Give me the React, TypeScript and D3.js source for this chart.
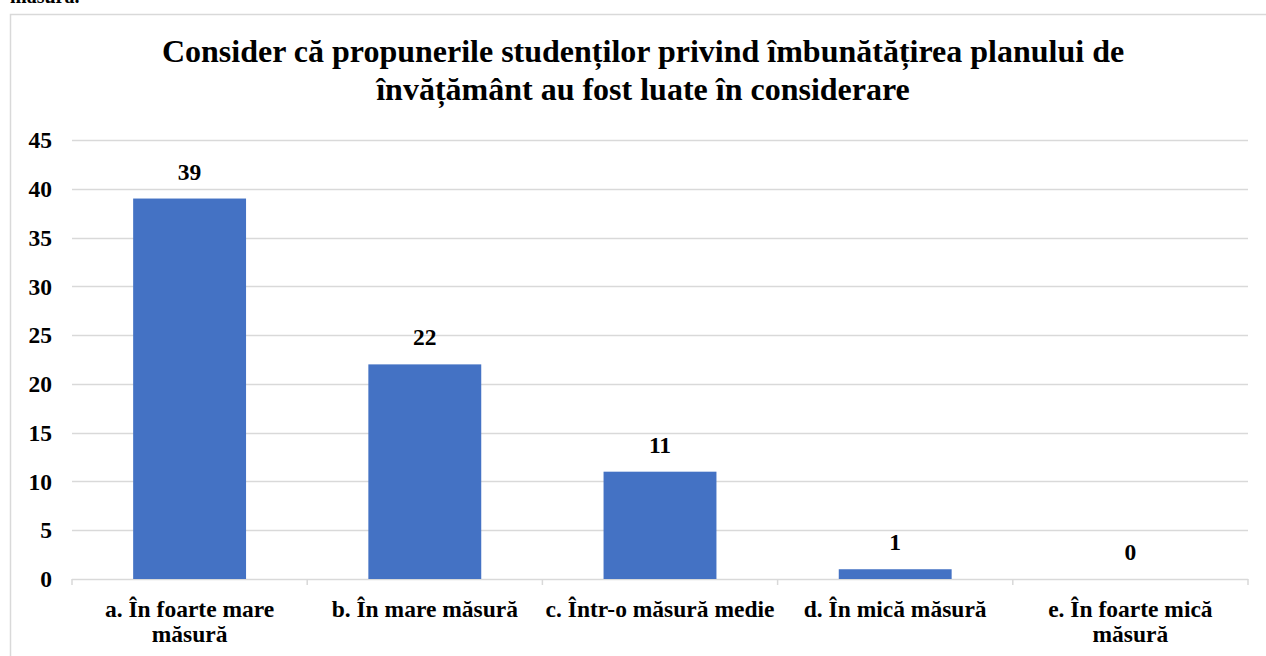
import React from "react";
import * as d3 from "d3";

const categories = [
  "a. În foarte mare măsură",
  "b. În mare măsură",
  "c. Într-o măsură medie",
  "d. În mică măsură",
  "e. În foarte mică măsură",
];
const values = [39, 22, 11, 1, 0];
const yTicks = [0, 5, 10, 15, 20, 25, 30, 35, 40, 45];
const titleLines = [
  "Consider că propunerile studenților privind îmbunătățirea planului de",
  "învățământ au fost luate în considerare",
];

const W = 1266;
const H = 656;
const FONT = "'Liberation Serif', 'Times New Roman', serif";

function wrap(text: string, maxW: number, font: string): string[] {
  const c = document.createElement("canvas").getContext("2d")!;
  c.font = font;
  const words = text.split(" ");
  const lines: string[] = [];
  let cur = "";
  for (const w of words) {
    const t = cur ? cur + " " + w : w;
    if (c.measureText(t).width > maxW && cur) {
      lines.push(cur);
      cur = w;
    } else cur = t;
  }
  if (cur) lines.push(cur);
  return lines;
}

export default function App() {
  const left = 72, right = 1248, top = 140, bottom = 579;
  const x = d3.scaleBand<string>().domain(categories).range([left, right]).paddingInner(0.52).paddingOuter(0.26);
  const xb = d3.scaleBand<string>().domain(categories).range([left, right]);
  const y = d3.scaleLinear().domain([0, 45]).range([bottom, top]);
  const fs = 23.5;
  const labelFont = `bold ${fs}px ${FONT}`;
  return (
    <svg width={W} height={H} style={{ position: "absolute", left: 0, top: 0, background: "#fff" }} fontFamily={FONT}>
      <text x={10} y={3} fontSize={20} fontWeight="bold" fill="#000">măsură.</text>
      <rect x={10.5} y={14.5} width={W + 10} height={H + 10} fill="#fff" stroke="#d9d9d9" strokeWidth={1.5} />
      {titleLines.map((t, i) => (
        <text key={i} x={643} y={62 + i * 38} textAnchor="middle" fontSize={32} fontWeight="bold" fill="#000">{t}</text>
      ))}
      {yTicks.map((t) => (
        <g key={t}>
          <line x1={left} x2={right} y1={Math.round(y(t)) + 0.5} y2={Math.round(y(t)) + 0.5} stroke="#d9d9d9" strokeWidth={1.5} />
          <text x={52} y={y(t)} dy="0.35em" textAnchor="end" fontSize={fs} fontWeight="bold">{t}</text>
        </g>
      ))}
      {categories.map((c, i) => (
        <line key={"tk" + i} x1={xb(c)!} x2={xb(c)!} y1={bottom} y2={bottom + 6} stroke="#d9d9d9" strokeWidth={1.5} />
      ))}
      <line x1={right} x2={right} y1={bottom} y2={bottom + 6} stroke="#d9d9d9" strokeWidth={1.5} />
      {categories.map((c, i) => (
        <rect key={"b" + i} x={x(c)!} width={x.bandwidth()} y={y(values[i])} height={bottom - y(values[i])} fill="#4472c4" />
      ))}
      {categories.map((c, i) => (
        <text key={"v" + i} x={xb(c)! + xb.bandwidth() / 2} y={y(values[i]) - 19} textAnchor="middle" fontSize={fs} fontWeight="bold">{values[i]}</text>
      ))}
      {categories.map((c, i) => {
        const lines = wrap(c, xb.bandwidth() - 2, labelFont);
        return (
          <text key={"c" + i} x={xb(c)! + xb.bandwidth() / 2} y={617} textAnchor="middle" fontSize={fs} fontWeight="bold">
            {lines.map((l, j) => (
              <tspan key={j} x={xb(c)! + xb.bandwidth() / 2} dy={j === 0 ? 0 : 25}>{l}</tspan>
            ))}
          </text>
        );
      })}
    </svg>
  );
}
